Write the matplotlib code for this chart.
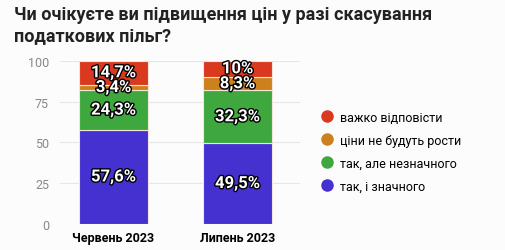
import matplotlib.pyplot as plt
import matplotlib.patheffects as pe
from matplotlib.lines import Line2D

categories = ['Червень 2023', 'Липень 2023']
series_names = ['так, і значного', 'так, але незначного', 'ціни не будуть рости', 'важко відповісти']
values = {
    'так, і значного': [57.6, 49.5],
    'так, але незначного': [24.3, 32.3],
    'ціни не будуть рости': [3.4, 8.3],
    'важко відповісти': [14.7, 10.0],
}
labels = {
    'так, і значного': ['57,6%', '49,5%'],
    'так, але незначного': ['24,3%', '32,3%'],
    'ціни не будуть рости': ['3,4%', '8,3%'],
    'важко відповісти': ['14,7%', '10%'],
}
colors = ['#4431d0', '#3ea83e', '#cc811c', '#d9391f']
yticks = [0, 25, 50, 75, 100]

plt.rcParams['font.family'] = ['Roboto', 'DejaVu Sans']

fig = plt.figure(figsize=(5.05, 2.51), dpi=100)
fig.patch.set_facecolor('#fdfcfd')
ax = fig.add_axes([0.119, 0.104, 0.475, 0.65])
ax.set_facecolor('#fdfcfd')

x = [0, 1]
bottom = [0, 0]
for name, col in zip(series_names, colors):
    vals = values[name]
    ax.bar(x, vals, bottom=bottom, width=0.556, color=col, edgecolor='#f3e6d8', linewidth=0.8, zorder=3)
    for i in range(2):
        ax.text(x[i], bottom[i] + vals[i] / 2, labels[name][i], ha='center', va='center',
                color='white', fontsize=12, fontweight='bold', zorder=4,
                path_effects=[pe.withStroke(linewidth=2, foreground='black')])
    bottom = [b + v for b, v in zip(bottom, vals)]

ax.set_ylim(0, 100)
ax.set_xlim(-0.431, 1.504)
ax.set_yticks(yticks)
ax.set_xticks(x)
ax.set_xticklabels(categories, fontsize=9, fontweight='bold')
ax.tick_params(axis='y', colors='#888888', labelsize=9, length=0, pad=8)
ax.tick_params(axis='x', length=0, pad=5)
ax.grid(axis='y', color='#e6e6e6', linewidth=0.8, zorder=0)
for s in ax.spines.values():
    s.set_visible(False)

handles = [Line2D([], [], marker='o', linestyle='', markersize=8, color=c) for c in colors[::-1]]
fig.legend(handles, series_names[::-1], loc='upper left', bbox_to_anchor=(0.612, 0.575),
           frameon=False, fontsize=9, handletextpad=0.1, labelspacing=0.8, borderaxespad=0)

fig.text(0.028, 0.975, 'Чи очікуєте ви підвищення цін у разі скасування\nподаткових пільг?',
         fontsize=13, fontweight='bold', color='#222222', va='top', linespacing=1.2)

fig.savefig('out.png', dpi=100, facecolor=fig.get_facecolor())
